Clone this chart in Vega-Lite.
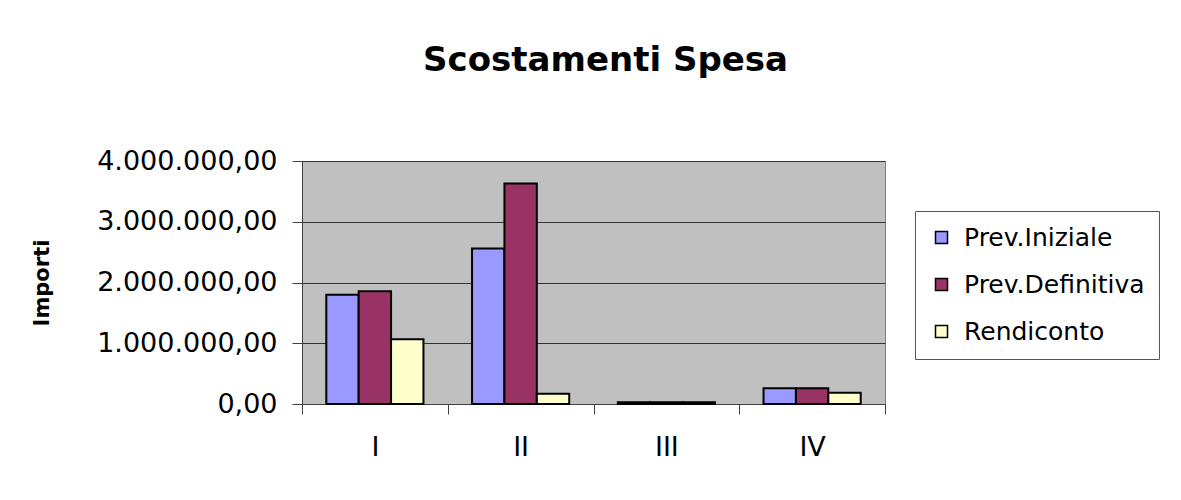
{
  "$schema": "https://vega.github.io/schema/vega-lite/v6.json",
  "width": 583,
  "height": 243,
  "autosize": {"type": "none"},
  "padding": {"left": 302, "top": 161, "right": 296, "bottom": 96},
  "background": "white",
  "config": {
    "locale": {"number": {"decimal": ",", "thousands": ".", "grouping": [3], "currency": ["€", ""]}},
    "font": "DejaVu Sans",
    "view": {"fill": "#C0C0C0", "stroke": "#808080", "strokeWidth": 1}
  },
  "title": {
    "text": "Scostamenti Spesa",
    "font": "DejaVu Sans",
    "fontSize": 34,
    "fontWeight": "bold",
    "color": "black",
    "anchor": "middle",
    "frame": "group",
    "baseline": "alphabetic",
    "offset": 42,
    "dx": 12
  },
  "data": {
    "values": [
      {"cat": "I", "serie": "Prev.Iniziale", "valore": 1800000},
      {"cat": "I", "serie": "Prev.Definitiva", "valore": 1856000},
      {"cat": "I", "serie": "Rendiconto", "valore": 1064000},
      {"cat": "II", "serie": "Prev.Iniziale", "valore": 2560000},
      {"cat": "II", "serie": "Prev.Definitiva", "valore": 3630000},
      {"cat": "II", "serie": "Rendiconto", "valore": 168000},
      {"cat": "III", "serie": "Prev.Iniziale", "valore": 30000},
      {"cat": "III", "serie": "Prev.Definitiva", "valore": 30000},
      {"cat": "III", "serie": "Rendiconto", "valore": 30000},
      {"cat": "IV", "serie": "Prev.Iniziale", "valore": 260000},
      {"cat": "IV", "serie": "Prev.Definitiva", "valore": 260000},
      {"cat": "IV", "serie": "Rendiconto", "valore": 185000}
    ]
  },
  "mark": {"type": "bar", "stroke": "black", "strokeWidth": 2},
  "encoding": {
    "x": {
      "field": "cat",
      "type": "nominal",
      "sort": ["I", "II", "III", "IV"],
      "scale": {"paddingInner": 0, "paddingOuter": 0},
      "axis": {
        "title": null,
        "labelAngle": 0,
        "labelFont": "DejaVu Sans",
        "labelFontSize": 27,
        "labelColor": "black",
        "labelPadding": 20,
        "tickBand": "extent",
        "tickSize": 10,
        "tickColor": "#404040",
        "domainColor": "#404040",
        "domainWidth": 1,
        "grid": false
      }
    },
    "xOffset": {
      "field": "serie",
      "type": "nominal",
      "sort": ["Prev.Iniziale", "Prev.Definitiva", "Rendiconto"],
      "scale": {"paddingInner": 0, "paddingOuter": 0.75}
    },
    "y": {
      "field": "valore",
      "type": "quantitative",
      "scale": {"domain": [0, 4000000], "nice": false},
      "axis": {
        "title": "Importi",
        "titleFont": "DejaVu Sans",
        "titleFontSize": 21,
        "titleFontWeight": "bold",
        "titleColor": "black",
        "titlePadding": 50,
        "values": [0, 1000000, 2000000, 3000000, 4000000],
        "format": ",.2f",
        "labelFont": "DejaVu Sans",
        "labelFontSize": 27,
        "labelColor": "black",
        "labelPadding": 15,
        "labelLimit": 400,
        "tickSize": 10,
        "tickColor": "#404040",
        "domainColor": "#404040",
        "grid": true,
        "gridColor": "#333333",
        "gridWidth": 1
      }
    },
    "color": {
      "field": "serie",
      "type": "nominal",
      "sort": ["Prev.Iniziale", "Prev.Definitiva", "Rendiconto"],
      "scale": {"domain": ["Prev.Iniziale", "Prev.Definitiva", "Rendiconto"], "range": ["#9999FF", "#993366", "#FFFFCC"]},
      "legend": {
        "title": null,
        "orient": "none",
        "legendX": 613,
        "legendY": 50,
        "padding": 14,
        "fillColor": "white",
        "strokeColor": "#555555",
        "symbolType": "square",
        "symbolSize": 144,
        "symbolOffset": 0,
        "symbolStrokeColor": "black",
        "symbolStrokeWidth": 1.5,
        "labelFont": "DejaVu Sans",
        "labelFontSize": 25,
        "labelColor": "black",
        "labelOffset": 10,
        "labelLimit": 400,
        "rowPadding": 21
      }
    }
  }
}
